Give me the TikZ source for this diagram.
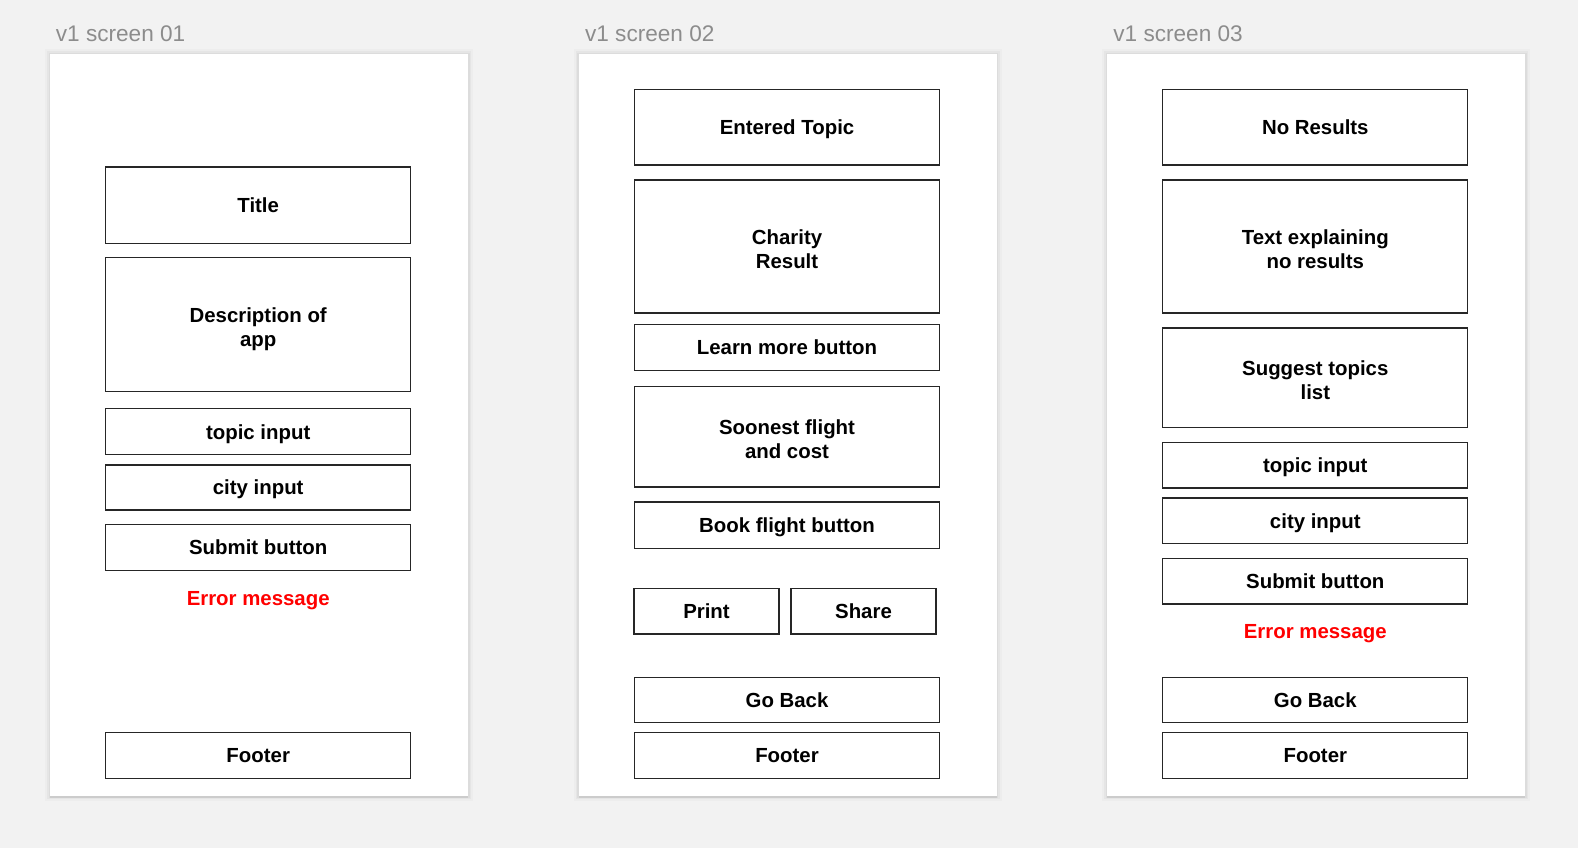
\documentclass[tikz,border=0pt]{standalone}
\usepackage{fontspec}
\setmainfont{Liberation Sans}
\usepackage{tikz}
\usetikzlibrary{shadows,positioning}

\begin{document}
\begin{tikzpicture}[x=0.5pt,y=-0.5pt,
  panel/.style={draw=none,fill=white,minimum width=209pt,minimum height=370.9pt,inner sep=0pt,
    preaction={draw=black,opacity=0.02,line width=5pt},
    preaction={draw=black,opacity=0.03,line width=3pt},
    preaction={draw=black,opacity=0.035,line width=1.4pt},
    drop shadow={shadow xshift=0pt,shadow yshift=-1pt,fill=black,opacity=0.07}},
  caption/.style={anchor=base west,inner sep=0pt,text=cgrey,font=\fontsize{11.3}{13}\selectfont},
  wbox/.style={draw=cline,line width=0.65pt,fill=white,minimum width=152.5pt,inner sep=0pt,
    text depth=0pt,align=center,font=\fontsize{10.2}{12}\selectfont\bfseries},
  twoline/.style={text height=22pt,text depth=0pt},
  errmsg/.style={text=cerr,inner sep=0pt,text depth=0pt,font=\fontsize{10.2}{12}\selectfont\bfseries}]
%
\useasboundingbox (0,0) rectangle (1578,848);
%
\definecolor{cbg}{rgb}{0.949,0.949,0.949}
\definecolor{cgrey}{rgb}{0.55,0.55,0.55}
\definecolor{cline}{rgb}{0.15,0.15,0.15}
\definecolor{cerr}{rgb}{1.0,0.0,0.0}
%
\fill[cbg] (0,0) rectangle (1578,848);
%
\node[caption] (cap1) at (55.5,41.7) {v1 screen 01};
\node[caption] (cap2) at (584.7,41.7) {v1 screen 02};
\node[caption] (cap3) at (1113,41.7) {v1 screen 03};
%
\node[panel] (screen1) at (259.2,425.2) {};
\node[panel] (screen2) at (787.5,425.2) {};
\node[panel] (screen3) at (1316.3,425.2) {};
%
% screen 01
\node[wbox,minimum height=38.2pt] (title1) at (258.2,205.2) {Title};
\node[wbox,twoline,minimum height=67pt] (desc1) at (258.2,324.5) {Description of\\app};
\node[wbox,minimum height=23pt] (topic1) at (258.2,431.8) {topic input};
\node[wbox,minimum height=22.6pt] (city1) at (258.2,487.5) {city input};
\node[wbox,minimum height=23pt] (submit1) at (258.2,547.5) {Submit button};
\node[errmsg] (error1) at (258.2,598.8) {Error message};
\node[wbox,minimum height=23pt] (footer1) at (258.2,755.8) {Footer};
%
% screen 02
\node[wbox,minimum height=37.8pt] (topic2) at (787,127.3) {Entered Topic};
\node[wbox,twoline,minimum height=66.5pt] (result2) at (787,246.5) {Charity\\Result};
\node[wbox,minimum height=23pt] (learn2) at (787,347.2) {Learn more button};
\node[wbox,twoline,minimum height=50.2pt] (flight2) at (787,436.8) {Soonest flight\\and cost};
\node[wbox,minimum height=23.2pt] (book2) at (787,525.3) {Book flight button};
\node[wbox,minimum width=72.5pt,minimum height=22.7pt] (print2) at (706.5,611.4) {Print};
\node[wbox,minimum width=72.5pt,minimum height=22.7pt] (share2) at (863.5,611.4) {Share};
\node[wbox,minimum height=22.7pt] (back2) at (787,700) {Go Back};
\node[wbox,minimum height=23pt] (footer2) at (787,755.8) {Footer};
%
% screen 03
\node[wbox,minimum height=37.8pt] (none3) at (1315.3,127.3) {No Results};
\node[wbox,twoline,minimum height=66.5pt] (explain3) at (1315.3,246.5) {Text explaining\\no results};
\node[wbox,twoline,minimum height=49.9pt] (suggest3) at (1315.3,377.9) {Suggest topics\\list};
\node[wbox,minimum height=22.7pt] (topic3) at (1315.3,465.4) {topic input};
\node[wbox,minimum height=22.7pt] (city3) at (1315.3,520.7) {city input};
\node[wbox,minimum height=22.7pt] (submit3) at (1315.3,581.2) {Submit button};
\node[errmsg] (error3) at (1315.3,631) {Error message};
\node[wbox,minimum height=22.7pt] (back3) at (1315.3,700) {Go Back};
\node[wbox,minimum height=23pt] (footer3) at (1315.3,755.8) {Footer};
%
\end{tikzpicture}
\end{document}
